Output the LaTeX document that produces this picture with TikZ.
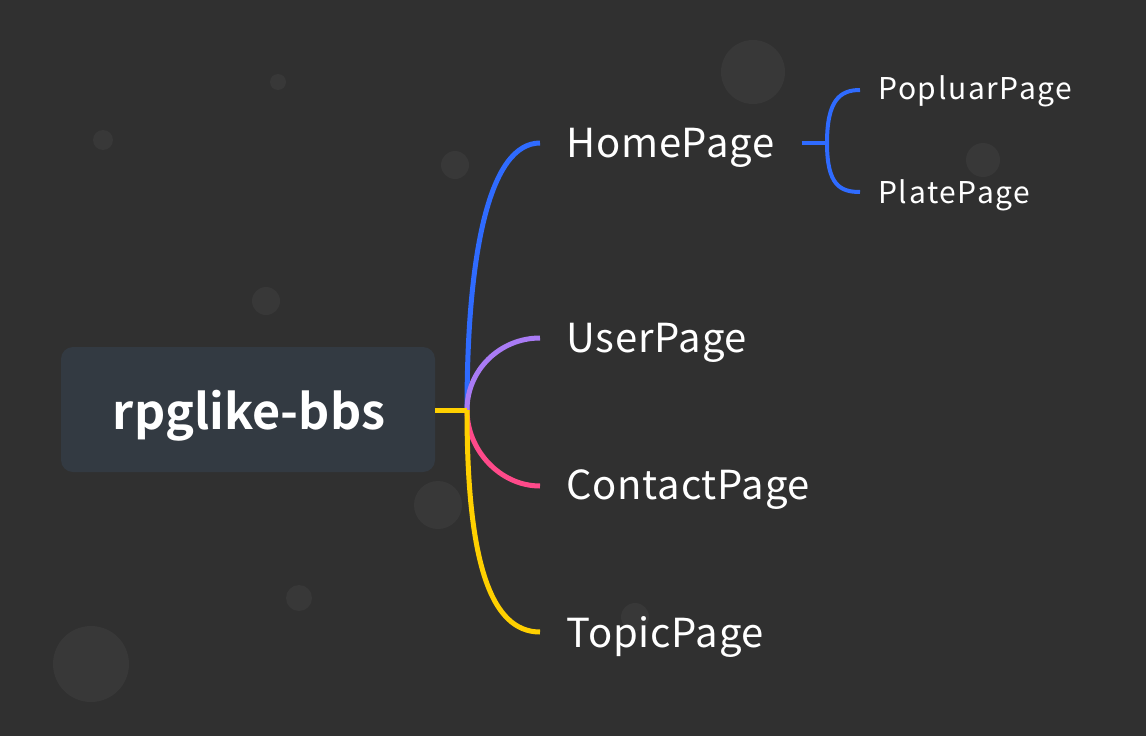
\documentclass[tikz,border=0pt]{standalone}
\usepackage{fontspec}
\setmainfont{Noto Sans CJK SC}[BoldFont={Noto Sans CJK SC Bold}]
\usetikzlibrary{calc}
\definecolor{bgdark}{HTML}{303030}
\definecolor{bubble}{HTML}{383838}
\definecolor{rootfill}{HTML}{333A42}
\definecolor{mapblue}{HTML}{2F6BFF}
\definecolor{mappurple}{HTML}{A97BF5}
\definecolor{mappink}{HTML}{FF4A8A}
\definecolor{mapyellow}{HTML}{FFD000}

\begin{document}
\begin{tikzpicture}[x=1pt, y=-1pt]
            \tikzstyle{bubble} = [fill=bubble]
            \tikzstyle{branch} = [line width=5pt]
            \tikzstyle{twig} = [line width=4pt, mapblue]
            \tikzstyle{topic} = [anchor=base west, inner sep=0pt, text=white, font=\fontsize{40}{44}\selectfont\addfontfeature{LetterSpace=2}]
            \tikzstyle{subtopic} = [anchor=base west, inner sep=0pt, text=white, font=\fontsize{30}{34}\selectfont\addfontfeature{LetterSpace=5.5}]
            \fill[bgdark] (0, 0) rectangle (1146, 736);
            \useasboundingbox (0, 0) rectangle (1146, 736);

            % background dots
            \fill[bubble] (753, 72) circle[radius=32];
            \fill[bubble] (455, 165) circle[radius=14];
            \fill[bubble] (278, 82) circle[radius=8];
            \fill[bubble] (103, 140) circle[radius=10];
            \fill[bubble] (266, 301) circle[radius=14];
            \fill[bubble] (438, 505) circle[radius=24];
            \fill[bubble] (299, 598) circle[radius=13];
            \fill[bubble] (91, 664) circle[radius=38];
            \fill[bubble] (635, 617) circle[radius=14];
            \fill[bubble] (983, 160) circle[radius=17];

            \fill[rootfill, rounded corners=12pt] (61, 347) rectangle (435, 472);
            \node[text=white, font=\fontsize{48.5}{52}\bfseries\selectfont, inner sep=0pt, anchor=base] (root) at (249, 429) {rpglike-bbs};
            \coordinate (rootedge) at (435, 410);

            \node[topic] (home) at (566, 157) {HomePage};
            \node[topic] (user) at (566, 352) {UserPage};
            \node[topic] (contact) at (566, 499) {ContactPage};
            \node[topic] (topic) at (566, 647) {TopicPage};

            \node[subtopic] (popular) at (878, 99) {PopluarPage};
            \node[subtopic] (plate) at (878, 203) {PlatePage};

            \coordinate (hub) at (467, 410);
            \coordinate (subhub) at (827, 143);

            \draw[branch, mapblue] (hub) .. controls (467, 250) and (490, 143) .. ($(home.base west) + (-26, -14)$);
            \draw[branch, mappurple] (hub) .. controls (467, 370) and (500, 338) .. ($(user.base west) + (-26, -14)$);
            \draw[branch, mappink] (hub) .. controls (467, 450) and (500, 486) .. ($(contact.base west) + (-26, -13)$);
            \draw[branch, mapyellow] (hub) .. controls (467, 560) and (490, 632) .. ($(topic.base west) + (-26, -15)$);
            \draw[branch, mapyellow] (rootedge) -- (hub);

            \draw[twig] ($(home.base east) + (27, -14)$) -- (subhub);
            \draw[twig] (subhub) .. controls (827, 100) and (840, 90) .. ($(popular.base west) + (-18, -9)$);
            \draw[twig] (subhub) .. controls (827, 185) and (840, 192) .. ($(plate.base west) + (-18, -11)$);
\end{tikzpicture}
\end{document}
